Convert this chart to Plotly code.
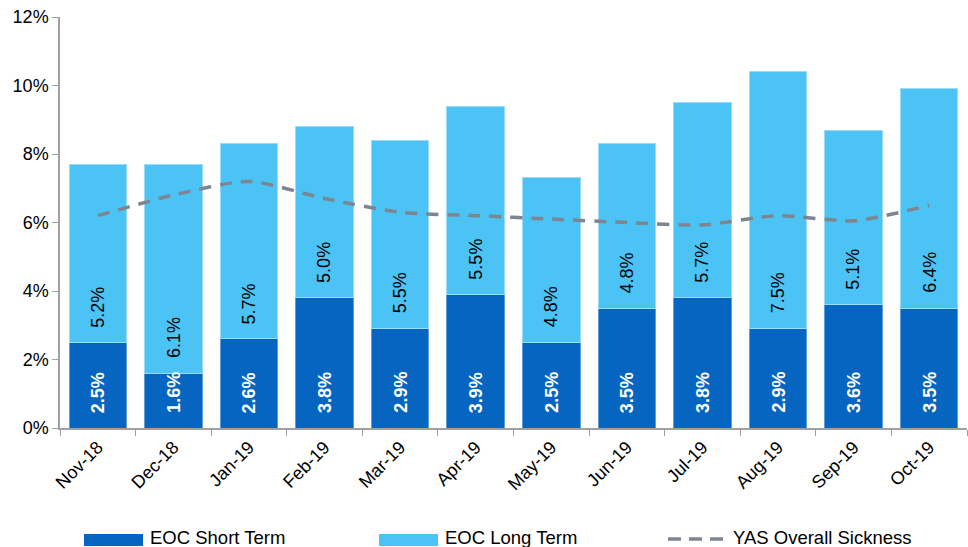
import plotly.graph_objects as go

months = ["Nov-18", "Dec-18", "Jan-19", "Feb-19", "Mar-19", "Apr-19",
          "May-19", "Jun-19", "Jul-19", "Aug-19", "Sep-19", "Oct-19"]
short_term = [2.5, 1.6, 2.6, 3.8, 2.9, 3.9, 2.5, 3.5, 3.8, 2.9, 3.6, 3.5]
long_term = [5.2, 6.1, 5.7, 5.0, 5.5, 5.5, 4.8, 4.8, 5.7, 7.5, 5.1, 6.4]
yas_overall = [6.2, 6.8, 7.2, 6.7, 6.3, 6.2, 6.1, 6.0, 5.93, 6.2, 6.05, 6.5]

DARK = "#0565C0"
LIGHT = "#4BC3F4"
GREY_LINE = "#7D8690"
FONT = "Liberation Sans, Arial, sans-serif"

W, H = 968, 547
ML, MR, MT, MB = 60, 1, 17, 119

fig = go.Figure()
fig.add_trace(go.Bar(
    x=months, y=short_term, name="EOC Short Term",
    marker=dict(color=DARK, line=dict(color="#5E9ED8", width=1)),
    hoverinfo="x+y",
))
fig.add_trace(go.Bar(
    x=months, y=long_term, name="EOC Long Term",
    marker=dict(color=LIGHT, line=dict(color="#9ADCF8", width=1)),
    hoverinfo="x+y",
))
fig.add_trace(go.Scatter(
    x=months, y=yas_overall, name="YAS Overall Sickness", mode="lines",
    line=dict(color=GREY_LINE, width=3.5, dash="12px,9px", shape="spline", smoothing=0.7),
))

annotations = []
# value labels sit just above the base of each segment, reading upwards
for m, s, l in zip(months, short_term, long_term):
    annotations.append(dict(
        x=m, y=0, xref="x", yref="y", text=f"<b>{s:.1f}%</b>", showarrow=False,
        textangle=-90, yanchor="bottom", yshift=13,
        font=dict(family=FONT, size=18, color="white"),
    ))
    annotations.append(dict(
        x=m, y=s, xref="x", yref="y", text=f"{l:.1f}%", showarrow=False,
        textangle=-90, yanchor="bottom", yshift=13,
        font=dict(family=FONT, size=18, color="black"),
    ))


def px_x(px):
    return (px - ML) / (W - ML - MR)


def px_y(py):
    return (H - MB - py) / (H - MT - MB)


# bottom legend: wide swatches followed by their labels
shapes = []
legend_items = [
    ("EOC Short Term", "rect", DARK, 84, 143, 148),
    ("EOC Long Term", "rect", LIGHT, 379, 438, 443),
    ("YAS Overall Sickness", "line", GREY_LINE, 668, 725, 731),
]
for label, kind, color, x0, x1, tx in legend_items:
    if kind == "rect":
        shapes.append(dict(type="rect", xref="paper", yref="paper",
                           x0=px_x(x0), x1=px_x(x1), y0=px_y(546), y1=px_y(534),
                           fillcolor=color, line=dict(width=0)))
    else:
        shapes.append(dict(type="line", xref="paper", yref="paper",
                           x0=px_x(x0), x1=px_x(x1), y0=px_y(539), y1=px_y(539),
                           line=dict(color=color, width=3.5, dash="13px,8px")))
    annotations.append(dict(
        x=px_x(tx), y=px_y(537), xref="paper", yref="paper", text=label,
        showarrow=False, xanchor="left", yanchor="middle",
        font=dict(family=FONT, size=18.5, color="black"),
    ))

fig.update_layout(
    width=W, height=H,
    margin=dict(l=ML, r=MR, t=MT, b=MB, pad=0),
    barmode="stack", bargap=0.24,
    plot_bgcolor="white", paper_bgcolor="white",
    showlegend=False,
    font=dict(family=FONT, size=17, color="black"),
    xaxis=dict(
        type="category", tickangle=-45, tickson="boundaries",
        ticks="outside", ticklen=6, tickcolor="#A0A0A0",
        showline=True, linecolor="#A0A0A0", linewidth=1.5,
        showgrid=False, tickfont=dict(size=18),
        range=[-0.5, 11.5],
    ),
    yaxis=dict(
        range=[0, 12], dtick=2, ticksuffix="%",
        ticks="outside", ticklen=6, tickcolor="#A0A0A0",
        showline=True, linecolor="#A0A0A0", linewidth=1.5,
        showgrid=False, zeroline=False, tickfont=dict(size=18),
    ),
    annotations=annotations,
    shapes=shapes,
)

fig.write_html("out.html")
